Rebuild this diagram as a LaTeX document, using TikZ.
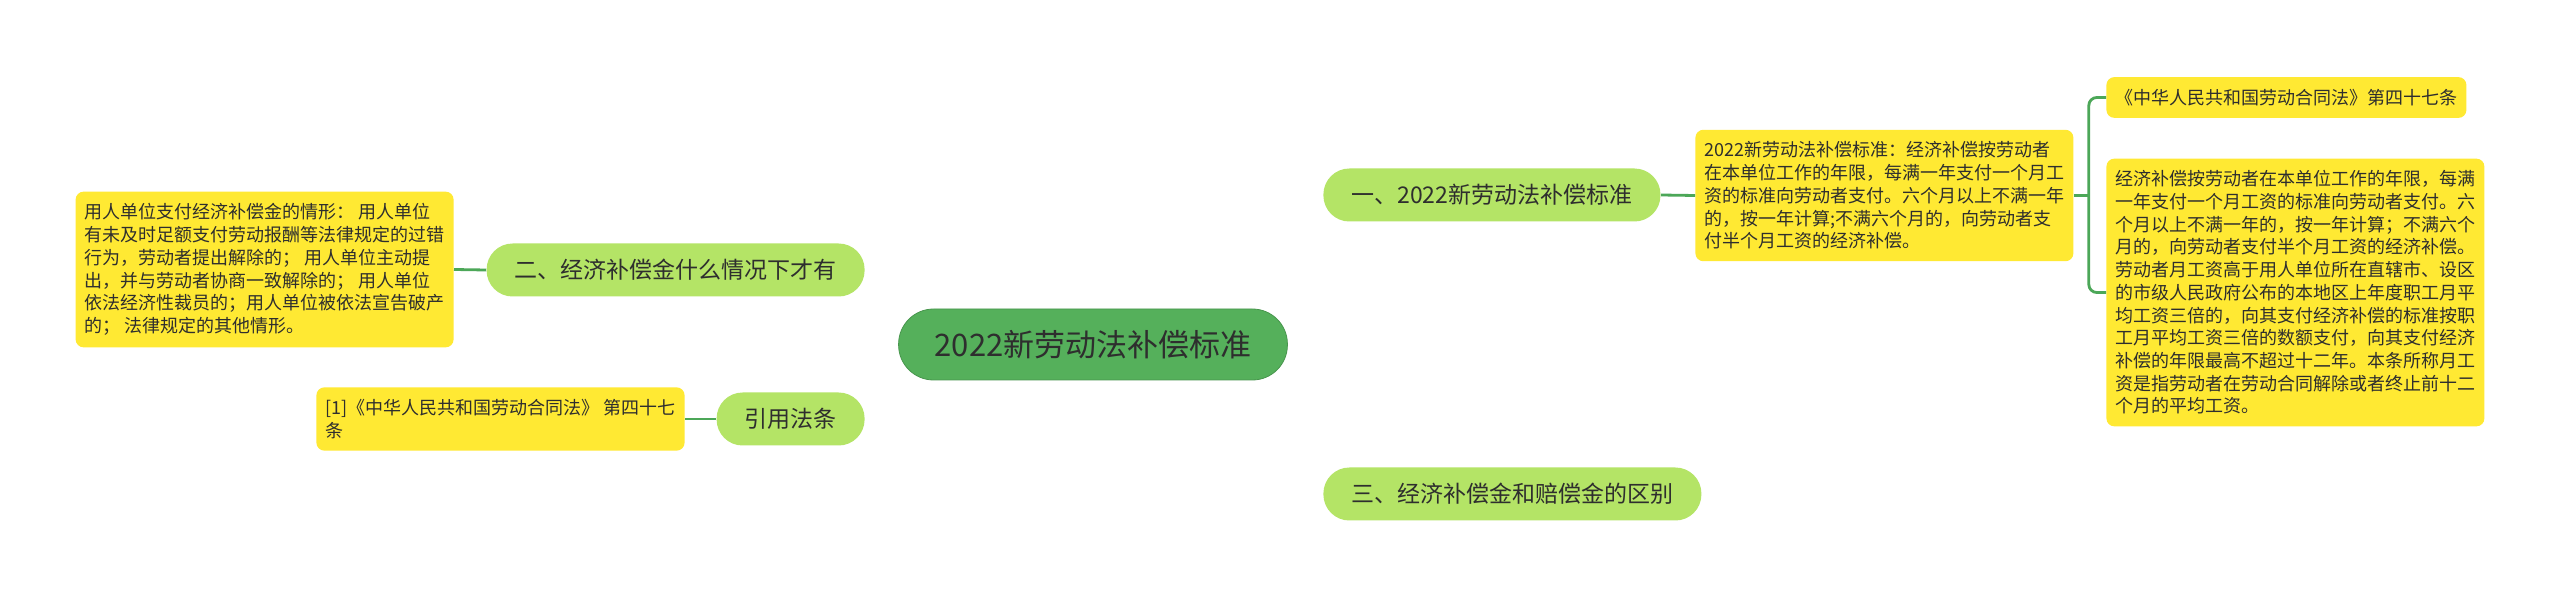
\documentclass[tikz,border=0pt]{standalone}
\usepackage{fontspec}
\setmainfont{Noto Sans CJK SC}
\usetikzlibrary{backgrounds}
\definecolor{rootgreen}{HTML}{55B05B}
\definecolor{pillgreen}{HTML}{B4E466}
\definecolor{noteyellow}{HTML}{FFE933}
\definecolor{linkgreen}{HTML}{4CA758}
\definecolor{inkgray}{HTML}{2E2E2E}

\begin{document}
\begin{tikzpicture}[x=0.5pt, y=-0.5pt,
  root/.style={rectangle, rounded corners=17.5pt, fill=rootgreen, draw=rootgreen!85!black, line width=0.4pt, minimum height=35.5pt, inner xsep=18pt, text=inkgray, font={\fontsize{15.5pt}{18pt}\selectfont}},
  pill/.style={rectangle, rounded corners=13pt, fill=pillgreen, minimum height=26.5pt, inner xsep=14pt, text=inkgray, font={\fontsize{11.5pt}{14pt}\selectfont}},
  note/.style={rectangle, rounded corners=4pt, fill=noteyellow, align=left, inner xsep=4.5pt, inner ysep=6pt, text=inkgray, font={\fontsize{9pt}{11.35pt}\selectfont}},
  link/.style={draw=linkgreen, line width=1.4pt}]
\path[fill=white, use as bounding box] (0,0) rectangle (2560,598);

\node[root] (root) at (1093,344.5) {2022新劳动法补偿标准};

\node[pill, anchor=west] (b1) at (1323,195) {一、2022新劳动法补偿标准};
\node[pill, anchor=east] (b2) at (865,270) {二、经济补偿金什么情况下才有};
\node[pill, anchor=west] (b3) at (1323,494) {三、经济补偿金和赔偿金的区别};
\node[pill, anchor=east] (b4) at (865,419) {引用法条};

\node[note, anchor=east] (leftbox) at (454,269.5) {用人单位支付经济补偿金的情形： 用人单位\\
有未及时足额支付劳动报酬等法律规定的过错\\
行为，劳动者提出解除的； 用人单位主动提\\
出，并与劳动者协商一致解除的； 用人单位\\
依法经济性裁员的；用人单位被依法宣告破产\\
的； 法律规定的其他情形。};
\node[note, anchor=east] (refbox) at (685,419) {[1]《中华人民共和国劳动合同法》 第四十七\\
条};
\node[note, anchor=west] (rb1) at (1695,195.5) {2022新劳动法补偿标准：经济补偿按劳动者\\
在本单位工作的年限，每满一年支付一个月工\\
资的标准向劳动者支付。六个月以上不满一年\\
的，按一年计算;不满六个月的，向劳动者支\\
付半个月工资的经济补偿。};
\node[note, anchor=west] (tr) at (2106,97.5) {《中华人民共和国劳动合同法》第四十七条};
\node[note, anchor=west] (br) at (2106,292.5) {经济补偿按劳动者在本单位工作的年限，每满\\
一年支付一个月工资的标准向劳动者支付。六\\
个月以上不满一年的，按一年计算；不满六个\\
月的，向劳动者支付半个月工资的经济补偿。\\
劳动者月工资高于用人单位所在直辖市、设区\\
的市级人民政府公布的本地区上年度职工月平\\
均工资三倍的，向其支付经济补偿的标准按职\\
工月平均工资三倍的数额支付，向其支付经济\\
补偿的年限最高不超过十二年。本条所称月工\\
资是指劳动者在劳动合同解除或者终止前十二\\
个月的平均工资。};

\begin{pgfonlayer}{background}
\draw[link] (root.center) .. controls +(0,-82) and +(-127,0) .. (b1.west);
\draw[link] (root.center) .. controls +(0,82) and +(-127,0) .. (b3.west);
\draw[link] (root.center) .. controls +(-13,-44.5) and +(135,2) .. (b2.east);
\draw[link] (root.center) .. controls +(-13,44.5) and +(135,-2) .. (b4.east);
\end{pgfonlayer}

\foreach \a/\b in {b1.east/rb1.west, b2.west/leftbox.east, b4.west/refbox.east}
\draw[link] (\a) -- (\b);

\path (rb1.east) ++(15,0) coordinate (fork);
\draw[link] (rb1.east) -- (fork);
\draw[link, rounded corners=4pt] (tr.west) -| (fork) |- (br.west);
\end{tikzpicture}
\end{document}
